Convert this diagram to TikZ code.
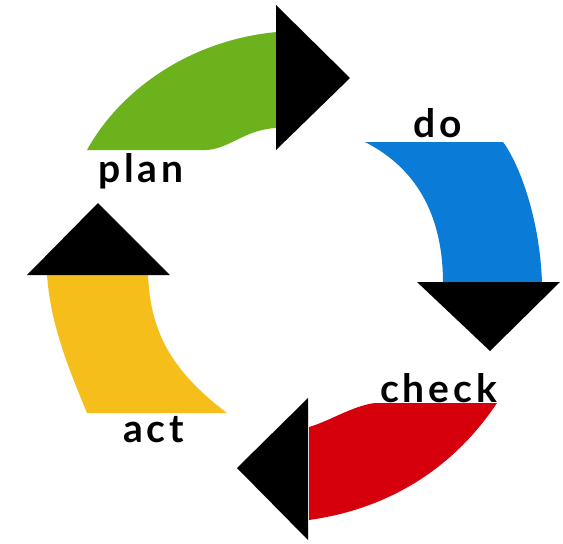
\documentclass[tikz,border=0pt]{standalone}
\usepackage{fontspec}
\newfontfamily\lblfont{Lato}[LetterSpace=10]
\definecolor{pgreen}{RGB}{108,178,28}
\definecolor{pblue}{RGB}{10,123,214}
\definecolor{pred}{RGB}{214,0,12}
\definecolor{pyellow}{RGB}{245,190,26}
\tikzset{
  lbl/.style={inner sep=0pt, anchor=base west, font=\lblfont\bfseries\fontsize{39}{39}\selectfont, text=black},
  head/.style={fill=black},
}
\begin{document}
\begin{tikzpicture}[x=1pt,y=-1pt]
\useasboundingbox (0,0) rectangle (563,544);
\fill[white] (0,0) rectangle (563,544);
% plan (green)
\fill[pgreen] (87,150) -- (205,150) .. controls (228,150) and (245,129) .. (277,128)
  -- (277,32) .. controls (190,40) and (120,90) .. (87,150) -- cycle;
\fill[head] (276,5) -- (350,78) -- (276,150) -- cycle;
% do (blue)
\fill[pblue] (365,142) -- (503,142) .. controls (520,165) and (540,220) .. (542,283)
  -- (443,283) .. controls (443,220) and (420,170) .. (365,142) -- cycle;
\fill[head] (417,282) -- (560,282) -- (490,351) -- cycle;
% check (red)
\fill[pred] (309,427) -- (309,520) .. controls (395,508) and (457,463) .. (497,403)
  -- (375,403) .. controls (352,406) and (330,421) .. (309,427) -- cycle;
\fill[head] (308,398) -- (308,540) -- (237,468) -- cycle;
% act (yellow)
\fill[pyellow] (47,274) -- (148,274) .. controls (150,330) and (170,370) .. (227,413)
  -- (87,413) .. controls (65,360) and (50,320) .. (47,274) -- cycle;
\fill[head] (27,275) -- (170,275) -- (98,203) -- cycle;
% labels
\node[lbl] (plan) at (98,182) {plan};
\node[lbl] (do) at (413,137) {do};
\node[lbl] (check) at (380,402) {check};
\node[lbl] (act) at (123,442) {act};
\end{tikzpicture}
\end{document}
